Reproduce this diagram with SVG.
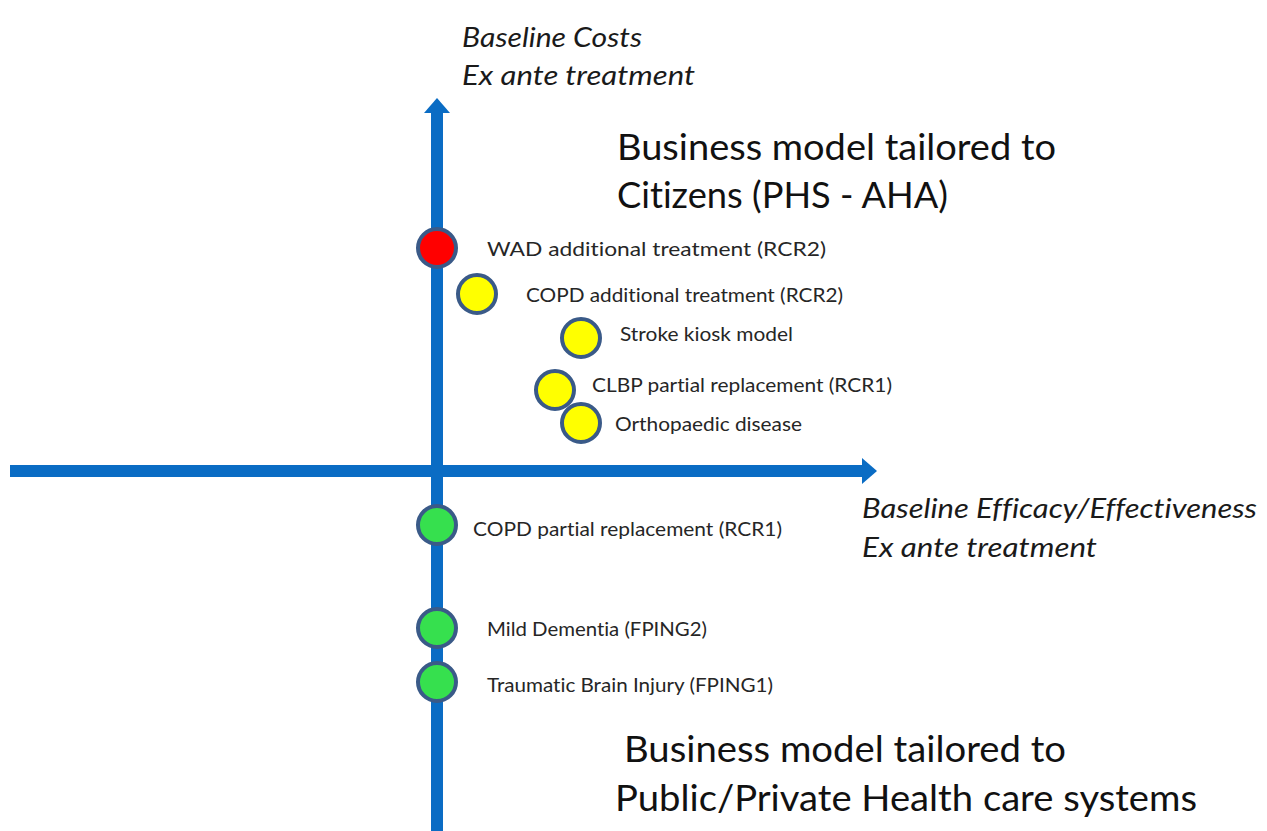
<svg xmlns="http://www.w3.org/2000/svg" width="1267" height="831" viewBox="0 0 1267 831">
<style>
.axis{stroke:#0A6CC4;stroke-width:12;fill:none}
.head{fill:#0A6CC4}
.dot{stroke:#3A5A88;stroke-width:4}
.red{fill:#FF0000}
.yel{fill:#FFFF00}
.grn{fill:#36E04E}
text{font-variant-ligatures:none}
.lbl{font-family:Lato,"Open Sans","Liberation Sans",sans-serif;font-size:20px;fill:#262626}
.ax{font-family:Lato,"Open Sans","Liberation Sans",sans-serif;font-size:27px;font-style:italic;fill:#1a1a1a}
.ttl{font-family:Lato,"Open Sans","Liberation Sans",sans-serif;font-size:36px;fill:#111}
</style>
<rect width="1267" height="831" fill="#fff"/>
<g id="connectors">
<line class="axis" x1="437" y1="831" x2="437" y2="110"/>
<polygon class="head" points="437,98 424,113 450,113"/>
<line class="axis" x1="10" y1="471" x2="864" y2="471"/>
<polygon class="head" points="877,471 862,458 862,484"/>
</g>
<g id="axis-y-label">
<text class="ax" x="462" y="47" textLength="180" lengthAdjust="spacingAndGlyphs">Baseline Costs</text>
<text class="ax" x="462" y="85" textLength="233" lengthAdjust="spacingAndGlyphs">Ex ante treatment</text>
</g>
<g id="axis-x-label">
<text class="ax" x="862" y="518" textLength="395" lengthAdjust="spacingAndGlyphs">Baseline Efficacy/Effectiveness</text>
<text class="ax" x="862" y="557" textLength="235" lengthAdjust="spacingAndGlyphs">Ex ante treatment</text>
</g>
<g id="title-top">
<text class="ttl" x="617" y="160" textLength="439" lengthAdjust="spacingAndGlyphs">Business model tailored to</text>
<text class="ttl" x="617" y="208" textLength="331" lengthAdjust="spacingAndGlyphs">Citizens (PHS - AHA)</text>
</g>
<g id="title-bottom">
<text class="ttl" x="624" y="762" textLength="442" lengthAdjust="spacingAndGlyphs">Business model tailored to</text>
<text class="ttl" x="615" y="811" textLength="582" lengthAdjust="spacingAndGlyphs">Public/Private Health care systems</text>
</g>
<g id="node-wad">
<circle class="dot red" cx="437" cy="248" r="19"/>
<text class="lbl" x="487" y="256" textLength="339" lengthAdjust="spacingAndGlyphs">WAD additional treatment (RCR2)</text>
</g>
<g id="node-copd-add">
<circle class="dot yel" cx="477" cy="294" r="19"/>
<text class="lbl" x="526" y="302" textLength="317" lengthAdjust="spacingAndGlyphs">COPD additional treatment (RCR2)</text>
</g>
<g id="node-stroke">
<circle class="dot yel" cx="581" cy="338" r="19"/>
<text class="lbl" x="620" y="341" textLength="173" lengthAdjust="spacingAndGlyphs">Stroke kiosk model</text>
</g>
<g id="node-clbp">
<circle class="dot yel" cx="555" cy="390" r="19"/>
<text class="lbl" x="592" y="392" textLength="300" lengthAdjust="spacingAndGlyphs">CLBP partial replacement (RCR1)</text>
</g>
<g id="node-ortho">
<circle class="dot yel" cx="581" cy="423" r="19"/>
<text class="lbl" x="615" y="431" textLength="187" lengthAdjust="spacingAndGlyphs">Orthopaedic disease</text>
</g>
<g id="node-copd-partial">
<circle class="dot grn" cx="437" cy="525" r="19"/>
<text class="lbl" x="473" y="536" textLength="309" lengthAdjust="spacingAndGlyphs">COPD partial replacement (RCR1)</text>
</g>
<g id="node-dementia">
<circle class="dot grn" cx="437" cy="628" r="19"/>
<text class="lbl" x="487" y="636" textLength="220" lengthAdjust="spacingAndGlyphs">Mild Dementia (FPING2)</text>
</g>
<g id="node-tbi">
<circle class="dot grn" cx="437" cy="682" r="19"/>
<text class="lbl" x="487" y="692" textLength="286" lengthAdjust="spacingAndGlyphs">Traumatic Brain Injury (FPING1)</text>
</g>
</svg>
